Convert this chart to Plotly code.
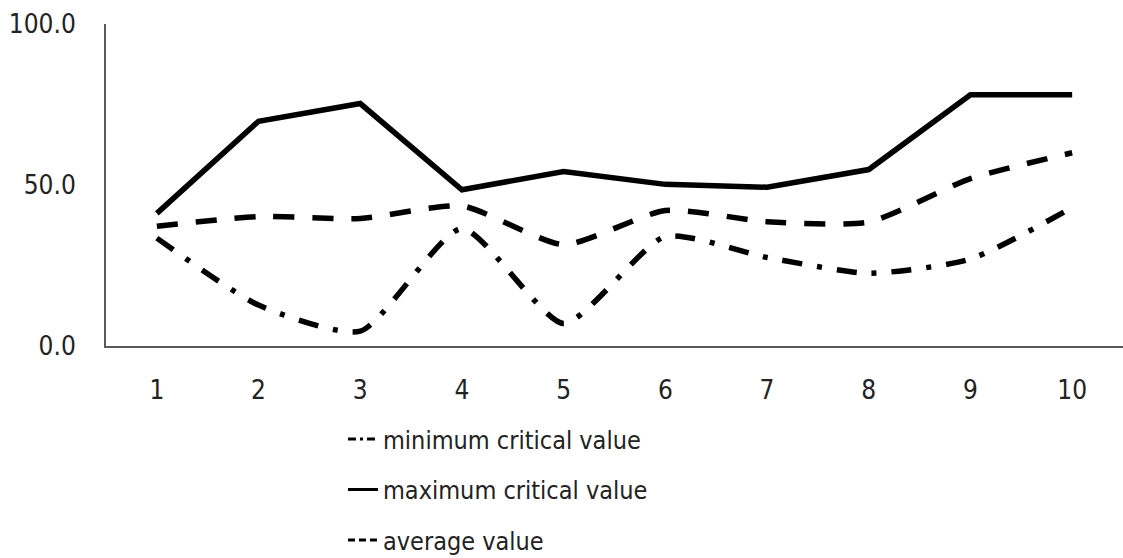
import plotly.graph_objects as go

categories = ["1", "2", "3", "4", "5", "6", "7", "8", "9", "10"]
min_critical = [33.5, 12.7, 4.6, 36.5, 7.0, 34.0, 27.5, 22.6, 27.0, 43.0]
max_critical = [41.2, 69.8, 75.3, 48.5, 54.2, 50.2, 49.3, 54.8, 78.0, 78.0]
average_value = [37.2, 40.2, 39.6, 43.5, 31.5, 42.1, 38.6, 38.5, 52.0, 60.0]
series_names = ["minimum critical value", "maximum critical value", "average value"]
y_ticks = [0, 50, 100]
y_tick_text = ["0.0", "50.0", "100.0"]

FONT = "DejaVu Sans Condensed, Liberation Sans, sans-serif"

series = [min_critical, max_critical, average_value]
plot_dash = ["20px,15px,5px,15px", "solid", "21px,18px"]
legend_dash = ["8px,4px,3px,4px", "solid", "7px,4px"]
shapes = ["spline", "linear", "spline"]

fig = go.Figure()
for i, (name, vals) in enumerate(zip(series_names, series)):
    line = dict(color="black", width=5.5, dash=plot_dash[i], shape=shapes[i])
    if shapes[i] == "spline":
        line["smoothing"] = 0.6
    fig.add_trace(go.Scatter(
        x=categories, y=vals, mode="lines", name=name,
        showlegend=False, legendgroup=f"g{i}", line=line,
    ))
# legend proxies (same series, compact dash pattern for the short legend sample)
for i, name in enumerate(series_names):
    fig.add_trace(go.Scatter(
        x=[None], y=[None], mode="lines", name=name,
        legendgroup=f"g{i}", showlegend=True,
        line=dict(color="black", width=3, dash=legend_dash[i]),
    ))

fig.update_layout(
    width=1123, height=558,
    margin=dict(l=106, r=0, t=24, b=212, autoexpand=False),
    paper_bgcolor="white", plot_bgcolor="white",
    font=dict(family=FONT, size=25, color="#222222"),
    showlegend=True,
    legend=dict(
        x=0.233, y=-0.218, xanchor="left", yanchor="top",
        orientation="v", tracegroupgap=15,
        font=dict(family=FONT, size=25, color="#222222"),
        bgcolor="rgba(0,0,0,0)",
    ),
    xaxis=dict(
        type="category", range=[-0.5, 9.5], automargin=False,
        showline=True, linecolor="#5a5a5a", linewidth=2,
        showgrid=False, zeroline=False, ticks="",
        ticklabelstandoff=20,
        tickfont=dict(family=FONT, size=26, color="#222222"),
    ),
    yaxis=dict(
        range=[0, 100], tickvals=y_ticks, ticktext=y_tick_text, automargin=False,
        showline=True, linecolor="#5a5a5a", linewidth=2,
        showgrid=False, zeroline=False, ticks="",
        ticklabelstandoff=23,
        tickfont=dict(family=FONT, size=26, color="#222222"),
    ),
)

fig.write_html(
    "out.html",
    config={"displayModeBar": False},
    post_script="document.body.style.margin='0';document.body.style.overflow='hidden';",
)
